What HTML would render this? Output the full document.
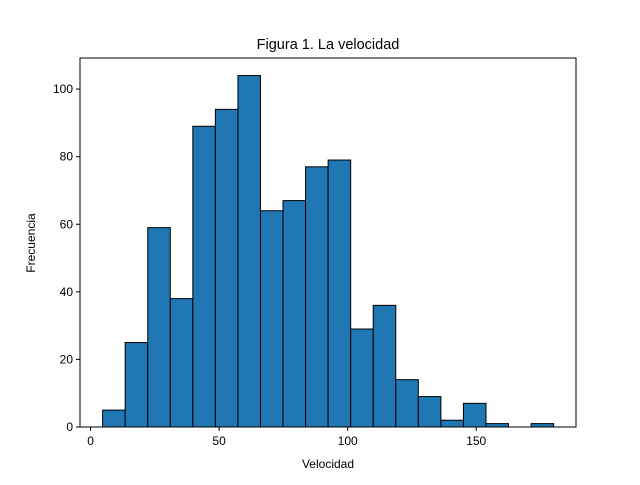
<!DOCTYPE html>
<html><head><meta charset="utf-8"><style>
body{margin:0;background:#fff;font-family:"Liberation Sans","DejaVu Sans",sans-serif;}
</style></head><body>
<svg id="chart" width="640" height="480" xmlns="http://www.w3.org/2000/svg">
<rect width="640" height="480" fill="#fff"/>
<text x="328" y="49" text-anchor="middle" font-size="14.5" fill="#000">Figura 1. La velocidad</text>
<g id="bars"></g>
<g id="xticks"></g>
<g id="yticks"></g>
<rect x="80" y="58" width="496" height="369" fill="none" stroke="#000" stroke-width="1"/>
<text x="328" y="468" text-anchor="middle" font-size="12">Velocidad</text>
<text transform="translate(35,243) rotate(-90)" text-anchor="middle" font-size="12">Frecuencia</text>
</svg>
<script>
const binStart = 4.7;
const binWidth = 8.77;
const counts = [5,25,59,38,89,94,104,64,67,77,79,29,36,14,9,2,7,1,0,1];
const xTickValues = [0,50,100,150];
const yTickValues = [0,20,40,60,80,100];
const X0=80,X1=576,Y0=427,Y1=58;
const xMin=-4.1,xMax=188.8,yMin=0,yMax=109.2;
const sx=v=>X0+(v-xMin)/(xMax-xMin)*(X1-X0);
const sy=v=>Y0-(v-yMin)/(yMax-yMin)*(Y0-Y1);
const ns="http://www.w3.org/2000/svg";
const bars=document.getElementById('bars');
counts.forEach((c,i)=>{
  if(c<=0) return;
  const a=binStart+i*binWidth,b=a+binWidth;
  const r=document.createElementNS(ns,'rect');
  r.setAttribute('x',sx(a));r.setAttribute('y',sy(c));
  r.setAttribute('width',sx(b)-sx(a));r.setAttribute('height',sy(0)-sy(c));
  r.setAttribute('fill','#1f77b4');r.setAttribute('stroke','#000');r.setAttribute('stroke-width','1');
  
  
  bars.appendChild(r);
});
const xt=document.getElementById('xticks');
xTickValues.forEach(v=>{
  const x=sx(v);
  const l=document.createElementNS(ns,'line');
  l.setAttribute('x1',x);l.setAttribute('x2',x);l.setAttribute('y1',Y0);l.setAttribute('y2',Y0+4);l.setAttribute('stroke','#000');
  
  
  xt.appendChild(l);
  const t=document.createElementNS(ns,'text');
  t.setAttribute('x',x);t.setAttribute('y',Y0+18);t.setAttribute('text-anchor','middle');t.setAttribute('font-size','12');
  t.textContent=v;
  
  
  xt.appendChild(t);
});
const yt=document.getElementById('yticks');
yTickValues.forEach(v=>{
  const y=sy(v);
  const l=document.createElementNS(ns,'line');
  l.setAttribute('x1',X0-4);l.setAttribute('x2',X0);l.setAttribute('y1',y);l.setAttribute('y2',y);l.setAttribute('stroke','#000');
  
  
  yt.appendChild(l);
  const t=document.createElementNS(ns,'text');
  t.setAttribute('x',X0-7);t.setAttribute('y',y+4);t.setAttribute('text-anchor','end');t.setAttribute('font-size','12');
  t.textContent=v;
  
  
  yt.appendChild(t);
});
</script>
</body></html>
